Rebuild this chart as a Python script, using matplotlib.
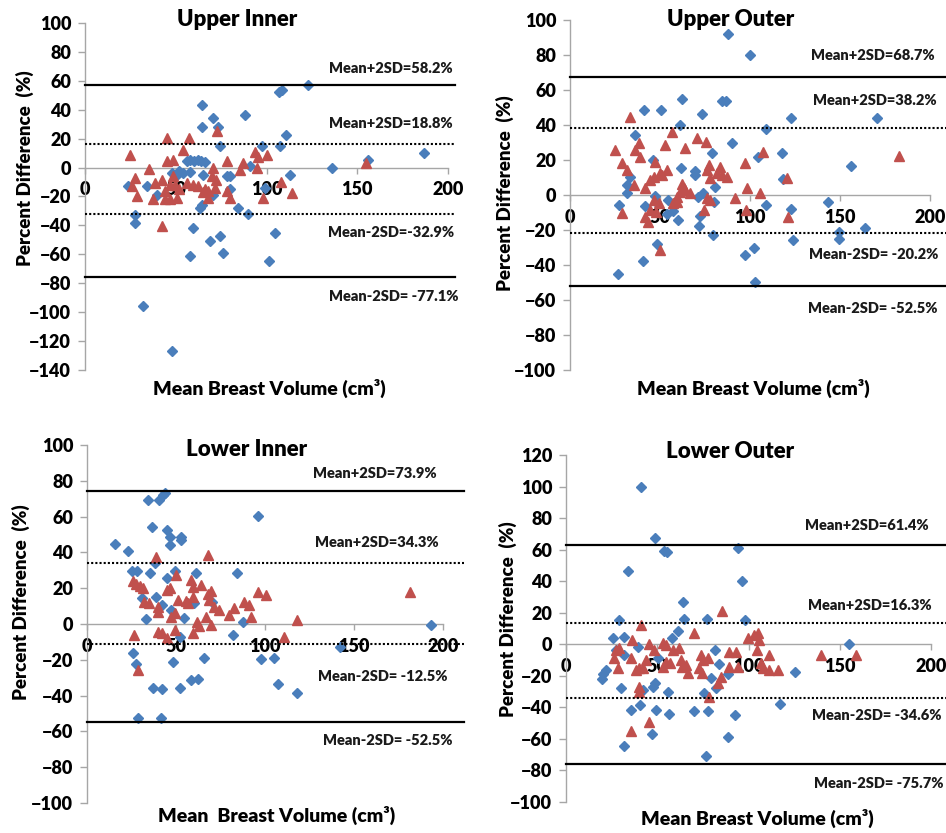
import matplotlib
matplotlib.use("Agg")
import matplotlib.pyplot as plt

plt.rcParams['font.family'] = ['Lato', 'DejaVu Sans']
plt.rcParams['font.weight'] = 'bold'

BLUE = '#4A7EBB'
RED = '#C0504D'
GRAY = '#A6A6A6'

# ---------------- data ----------------
titles = ["Upper Inner", "Upper Outer", "Lower Inner", "Lower Outer"]
xlabels = ["Mean Breast Volume (cm³)", "Mean Breast Volume (cm³)",
           "Mean  Breast Volume (cm³)", "Mean Breast Volume (cm³)"]
ylabel = "Percent Difference  (%)"

# Upper Inner
ui_blue_x = [122.9, 107, 108.5, 64.2, 88, 70.6, 64.2, 73.4, 110.6, 74.3, 97.3, 107.3, 187, 156, 136.3, 91.0,
             56, 58, 60, 62, 64, 66, 52, 58, 65, 54, 113, 78, 80, 80, 23.9, 34, 99, 63.4, 64.3, 70.6,
             84.5, 90, 27.5, 27.5, 59.7, 104.7, 74.4, 68.9, 76.2, 58, 101.5, 31.7, 47.7, 48, 50, 39.5]
ui_blue_y = [56.8, 52, 54, 43.4, 36.5, 34.2, 28.4, 28.4, 22.8, 14.7, 14.7, 14.7, 10, 5.3, 0, 1.4,
             4.5, 5.2, 4.8, 5, 4.6, 4.2, -2.5, -3.4, -4.8, -3.5, -4.8, -6, -6, -15, -13, -12.4, -14, -28, -25.6, -19,
             -27.9, -31.8, -32.8, -38, -41.7, -45, -47.5, -51, -59, -61, -64.8, -96, -127, -4, -6, -19]
ui_red_x = [24.8, 45.4, 57.5, 72.5, 54.2, 35.4, 45.3, 48.7, 27.5, 28.5, 25.7, 38.6, 37.6, 42.2, 48.7, 49.6,
            46.8, 44, 50.5, 46.8, 56, 59.7, 42.2, 78.4, 70.7, 69.8, 68, 71.6, 68, 66, 78, 80, 85.3, 87,
            93.6, 95.4, 94.5, 100, 98, 108, 113.8, 155, 65, 62, 52, 44, 72]
ui_red_y = [8.8, 20.5, 20.5, 25, 12.4, -1, 4.4, 5.5, -7, -20, -13, -10.6, -22, -8.3, -6, -11.8,
            -11.8, -16.4, -21, -22, -10.6, -11.8, -40.6, 4.4, -0.2, -6, -16.4, -14, -21, -15, -16.4, -21, -1.6, 3,
            11, 7.6, -0.5, 8.8, -21, -9.7, -17.3, 3, -16.6, -13, -15, -22, -8.5]
ui_lines = [57, 16, -32, -76]
ui_labels = ["Mean+2SD=58.2%", "Mean+2SD=18.8%", "Mean-2SD=-32.9%", "Mean-2SD= -77.1%"]

# Upper Outer
uo_blue_x = [88, 100, 62.4, 84.3, 86.5, 41.1, 50.6, 73.1, 122.6, 170.7, 61.1, 108.9, 36.1, 89.8, 78.7, 118,
             104.6, 46.3, 156, 61.5, 69.4, 69.4, 33.3, 31.9, 118.5, 80.5, 74, 31.5, 27.4, 47, 48, 41.7,
             54.6, 57.4, 59.8, 80, 72.2, 71.9, 108.9, 123, 143.5, 79.6, 163.9, 149.6, 149.6, 123.7, 48.1,
             102.2, 97.2, 40.4, 102.8, 26.9, 71, 54]
uo_blue_y = [91.8, 80, 54.7, 53.7, 53.7, 48.6, 48.6, 46, 44.2, 44.2, 40, 37.5, 34.3, 29.9, 24.2, 24.2,
             21.9, 20, 16.6, 15.6, 13.9, 11.4, 10.5, 5.7, 9.1, 4.8, 1.3, 1, -5.7, -0.6, -3.8, -6.3,
             -2.9, -9, -14.3, -3.8, -12, -18, -5.7, -8.2, -4.2, -22.9, -18.7, -21, -25.3, -26, -28,
             -30.5, -34.3, -38, -50, -45.3, -1, -11]
uo_red_x = [33.1, 56.7, 38.1, 36.3, 39, 25.2, 28.9, 31.7, 35.3, 53, 64, 70.4, 75.7, 47.4, 50.2, 46.4,
            53.9, 51.1, 44.6, 41.8, 63.1, 66.8, 61.2, 59.4, 62, 64, 76.1, 78, 81.7, 84.4, 87.2, 77.4,
            83.3, 91.8, 97.4, 98.3, 46.4, 49.2, 44.6, 41.8, 43.5, 28.9, 59.5, 57.4, 76, 78, 74.2, 97.8,
            105.6, 107.4, 120.4, 121.3, 50, 183, 48]
uo_red_y = [44.7, 36.2, 29.5, 25.7, 21.9, 25.7, 18.1, 14.3, 5.7, 28.6, 26.7, 32.4, 30.5, 19, 12.4, 10.5,
            14.3, 11.4, 8.6, 3.8, 3.8, 1, 1.9, -1, 6, 3, 14.3, 9.5, 12.4, 11.4, 10.5, 17.1,
            16.2, -1.9, 18.1, 3.8, -2.9, -4.8, -8.6, -12.4, -15.2, -10.5, -4, -4.8, -1.9, -2.9, -8.6, -8.6,
            1, 24.8, 9.5, -12.4, -31.4, 22, -10]
uo_lines = [67.5, 38, -21.5, -52]
uo_labels = ["Mean+2SD=68.7%", "Mean+2SD=38.2%", "Mean-2SD= -20.2%", "Mean-2SD= -52.5%"]

# Lower Inner
li_blue_x = [34.4, 40.4, 42.8, 44.1, 36.3, 96.2, 15.8, 23.3, 45.2, 46.5, 46.5, 53, 53, 38.1, 25.5, 27.9,
             35.5, 49.7, 61.4, 84.1, 44.7, 39, 30.7, 41.9, 32.9, 54.5, 70.1, 87.4, 82.2, 52.1, 193.5, 142,
             25.7, 27.5, 48.4, 65.5, 98, 105.1, 36.8, 42.2, 52.5, 58.2, 62.3, 107.3, 117.8, 28.8, 41.5, 60, 47]
li_blue_y = [69.3, 69.3, 72, 73.4, 54.4, 60.3, 44.7, 40.8, 52.5, 48.8, 44.1, 48.8, 47, 33.9, 29.6, 29.6,
             28.3, 29.8, 28.7, 28.7, 25.5, 15.3, 14.3, 10.6, 2.8, 3.2, 12.5, 1.3, -6.1, -7.1, -0.6, -12.7,
             -16, -22.3, -21, -18.8, -19.6, -19.2, -35.5, -36.5, -35.5, -31.3, -30.9, -33.7, -38.7, -52.7, -52.7, 12, 8]
li_red_x = [39, 67.9, 25.7, 27.6, 29.6, 31.6, 32.2, 40, 40, 44.7, 46.5, 50.2, 51.2, 49.3, 47.4, 58.6,
            59.5, 56.7, 59.5, 55.8, 64.2, 67.9, 68.8, 69.4, 71.6, 67, 69.8, 74.4, 80, 82.8, 88.4, 91.2,
            95.8, 100.5, 92.1, 26.6, 40, 41.9, 44.7, 49.3, 59.5, 28.8, 110.7, 118.1, 181.4, 62, 35, 63]
li_red_y = [37.6, 38.5, 24, 22.5, 21, 20, 12.5, 9.7, 6.9, 19, 19.9, 27.4, 13.4, 6, 4, 24.6,
            20.9, 12, 15, 13, 21.8, 17, 13.4, 18.6, 9.7, 4, -0.6, 7.8, 5, 8.8, 12.5, 10.6,
            18, 16.2, 4, -6.1, -4.3, -5.2, -8, -3.4, -5.2, -25.7, -7.4, 2.2, 18, 1, 12, -1]
li_lines = [74.3, 34.2, -11.2, -54.6]
li_labels = ["Mean+2SD=73.9%", "Mean+2SD=34.3%", "Mean-2SD= -12.5%", "Mean-2SD= -52.5%"]

# Lower Outer
lo_blue_x = [41.1, 49, 53.9, 55.2, 94.1, 33.8, 96.4, 64.3, 29.2, 64.8, 77.1, 98.3, 61.6, 25.9, 32, 57.9,
             155.3, 27.4, 39.3, 32, 81.8, 50.6, 83.7, 88.6, 125.7, 21.9, 20.5, 19.7, 49, 47.5, 79.5, 82.2,
             30.1, 42, 55.7, 75.8, 40.5, 35.6, 49.3, 56.6, 70.3, 78, 92.8, 117.3, 47.1, 32, 88.6, 76.7]
lo_blue_y = [100, 67.5, 59.4, 58.6, 61.1, 46.3, 40.3, 26.8, 15.5, 15.9, 15.9, 15.5, 8.1, 3.8, 4.9, 3.8,
             0.2, -3.6, -1.9, -6.8, -3.6, -8.5, -12.7, -18.9, -17.8, -16.3, -18.9, -22.3, -24.4, -27, -21.7, -28,
             -28, -29, -30.1, -31.2, -38.6, -41.8, -41.4, -44.4, -42.3, -42.3, -45, -38, -56.7, -64.5, -58.8, -71.1]
lo_red_x = [85.5, 41.1, 36.2, 45.7, 70.3, 53, 54.8, 48.4, 27.4, 29.2, 26.5, 28.3, 35.6, 43.8, 42, 38.4,
            40, 40.2, 39.8, 45.7, 35.6, 53, 54.8, 58.4, 62, 62.9, 63.8, 66.7, 65.8, 74, 74.9, 73.1,
            74.5, 77.6, 78.5, 83.1, 85, 89.5, 93.2, 94, 99.5, 103.2, 105, 106, 104.5, 106.8, 107.8, 111.4,
            116, 111.4, 139.7, 158.9, 89.5, 57]
lo_red_y = [21.4, 12.3, 2.8, 0, 7, 0.6, -0.4, -3.6, -3.6, -2.5, -8.9, -15.3, -8.9, -10, -15.3, -16,
            -15, -27, -30, -49.3, -55, -14.2, -11, -3.6, -2.5, -10, -14.2, -18.5, -13.2, -6.8, -10, -15.3,
            -18.5, -8.9, -33.3, -24.8, -20.6, -4.7, -4.7, -14.2, 3.8, 5.9, 7, 2.8, -3.6, -12.1, -15.3, -6.8,
            -16.3, -16.3, -6.8, -6.8, -14.2, -12]
lo_lines = [62.8, 13.5, -33.8, -75.7]
lo_labels = ["Mean+2SD=61.4%", "Mean+2SD=16.3%", "Mean-2SD= -34.6%", "Mean-2SD= -75.7%"]

# ---------------- layout ----------------
W, H = 946, 833
fig = plt.figure(figsize=(W / 100, H / 100), dpi=100)


def px_axes(left, right, top, bottom):
    return fig.add_axes([left / W, 1 - bottom / H, (right - left) / W, (bottom - top) / H])


panels = [
    dict(box=(85, 448, 23, 370), ylim=(-140, 100), bx=ui_blue_x, by=ui_blue_y, rx=ui_red_x, ry=ui_red_y,
         lines=ui_lines, labels=ui_labels, line_end=204, lab_x=[202.8, 202.8, 203.5, 206],
         lab_y=[68.5, 30.4, -45, -89], title_xy=(237, 20), ylab_xy=(25, 168), xlab_xy=(269, 388)),
    dict(box=(570, 930, 20, 370), ylim=(-100, 100), bx=uo_blue_x, by=uo_blue_y, rx=uo_red_x, ry=uo_red_y,
         lines=uo_lines, labels=uo_labels, line_end=210, lab_x=[202.8, 203.5, 204.4, 204.4],
         lab_y=[79.5, 54, -34, -64.7], title_xy=(731, 20), ylab_xy=(505, 193), xlab_xy=(753, 388)),
    dict(box=(87, 443, 445, 803), ylim=(-100, 100), bx=li_blue_x, by=li_blue_y, rx=li_red_x, ry=li_red_y,
         lines=li_lines, labels=li_labels, line_end=212, lab_x=[196.6, 197.8, 202.8, 205.6],
         lab_y=[83.8, 45.4, -29.4, -65], title_xy=(247, 450), ylab_xy=(21, 602), xlab_xy=(277, 815)),
    dict(box=(566, 931, 455, 802), ylim=(-100, 120), bx=lo_blue_x, by=lo_blue_y, rx=lo_red_x, ry=lo_red_y,
         lines=lo_lines, labels=lo_labels, line_end=210, lab_x=[198.9, 200.5, 205.5, 206.6],
         lab_y=[75.5, 24.7, -45, -88], title_xy=(730, 452), ylab_xy=(508, 619), xlab_xy=(757, 818)),
]

for i, p in enumerate(panels):
    ax = px_axes(*p['box'])
    ax.set_xlim(0, 200)
    ax.set_ylim(*p['ylim'])
    ax.set_facecolor('none')
    for s in ('top', 'right'):
        ax.spines[s].set_visible(False)
    ax.spines['bottom'].set_position(('data', 0))
    ax.spines['bottom'].set_color(GRAY)
    ax.spines['left'].set_color(GRAY)
    ax.spines['bottom'].set_linewidth(1.0)
    ax.spines['left'].set_linewidth(1.0)
    ax.set_xticks([0, 50, 100, 150, 200])
    lo, hi = p['ylim']
    ax.set_yticks(list(range(lo, hi + 1, 20)))
    ax.tick_params(axis='y', colors=GRAY, labelcolor='black', length=5, width=1, pad=5, labelsize=13)
    ax.tick_params(axis='x', colors=GRAY, labelcolor='black', length=4, width=1, pad=6, labelsize=13)
    for lab in ax.get_xticklabels() + ax.get_yticklabels():
        lab.set_fontweight('heavy')

    ax.plot(p['bx'], p['by'], linestyle='none', marker='D', ms=5.5, color=BLUE, mec=BLUE, zorder=3, clip_on=False)
    ax.plot(p['rx'], p['ry'], linestyle='none', marker='^', ms=7.8, color=RED, mec=RED, zorder=4, clip_on=False)

    for k, yv in enumerate(p['lines']):
        ls = '-' if k in (0, 3) else (0, (1, 1))
        ax.plot([0, p['line_end']], [yv, yv], color='black', lw=1.6 if k in (0, 3) else 1.5,
                linestyle=ls, zorder=5, clip_on=False)
    for k, t in enumerate(p['labels']):
        ax.text(p['lab_x'][k], p['lab_y'][k], t, ha='right', va='center', fontsize=10.5,
                fontweight='heavy', color='#1a1a1a', clip_on=False)

    tx, ty = p['title_xy']
    fig.text(tx / W, 1 - ty / H, titles[i], ha='center', va='center', fontsize=16, fontweight='heavy')
    yx, yy = p['ylab_xy']
    fig.text(yx / W, 1 - yy / H, ylabel, ha='center', va='center', rotation=90, fontsize=13.5,
             fontweight='heavy')
    xx, xy = p['xlab_xy']
    fig.text(xx / W, 1 - xy / H, xlabels[i], ha='center', va='center', fontsize=14, fontweight='heavy')

fig.savefig('out.png', dpi=100, facecolor='white')
